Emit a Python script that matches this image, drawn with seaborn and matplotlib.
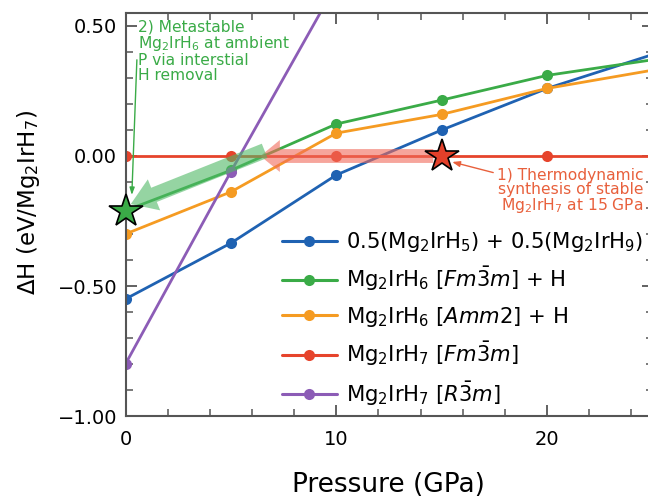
import numpy as np
import pandas as pd
import matplotlib
matplotlib.use("Agg")
import matplotlib.pyplot as plt
import seaborn as sns
from matplotlib.ticker import MultipleLocator, FuncFormatter

# ---------------- data ----------------
pressure = [0, 5, 10, 15, 20, 25]
labels = [
    r"0.5(Mg$_2$IrH$_5$) + 0.5(Mg$_2$IrH$_9$)",
    r"Mg$_2$IrH$_6$ [$Fm\bar{3}m$] + H",
    r"Mg$_2$IrH$_6$ [$Amm2$] + H",
    r"Mg$_2$IrH$_7$ [$Fm\bar{3}m$]",
    r"Mg$_2$IrH$_7$ [$R\bar{3}m$]",
]
dh_mix = [-0.55, -0.335, -0.073, 0.10, 0.26, 0.39]
dh_h6_fm3m = [-0.21, -0.055, 0.123, 0.215, 0.31, 0.37]
dh_h6_amm2 = [-0.30, -0.138, 0.088, 0.16, 0.26, 0.33]
dh_h7_fm3m = [0.0, 0.0, 0.0, 0.0, 0.0, 0.0]
purple_p = [0, 5, 10]
dh_h7_r3m = [-0.80, -0.06, 0.66]
colors = ["#1f62b2", "#3aab47", "#f59b22", "#e6442c", "#8c5cb6"]

star_green = (0, -0.21)
star_red = (15, 0.0)

# ---------------- style ----------------
sns.set_theme(style="ticks")
plt.rcParams["font.family"] = ["DejaVu Sans"]
plt.rcParams["mathtext.fontset"] = "dejavusans"
plt.rcParams["axes.unicode_minus"] = True
plt.rcParams["text.color"] = "black"
plt.rcParams["axes.labelcolor"] = "black"

W, H = 648, 499
fig = plt.figure(figsize=(W / 100, H / 100), dpi=100)
ax_left, ax_bottom_px, ax_top_px = 125.5, 416, 13
ax = fig.add_axes([ax_left / W, (H - ax_bottom_px) / H, 527 / W, (ax_bottom_px - ax_top_px) / H])

rows = []
series = [dh_mix, dh_h6_fm3m, dh_h6_amm2, dh_h7_fm3m]
for lab, vals in zip(labels[:4], series):
    for p, v in zip(pressure, vals):
        rows.append((p, v, lab))
for p, v in zip(purple_p, dh_h7_r3m):
    rows.append((p, v, labels[4]))
df = pd.DataFrame(rows, columns=["Pressure", "dH", "phase"])

sns.lineplot(data=df, x="Pressure", y="dH", hue="phase", hue_order=labels,
             palette=colors, marker="o", markersize=8, markeredgewidth=0,
             linewidth=2.0, sort=False, estimator=None, ax=ax)

# thick translucent arrows
ax.annotate("", xy=(6.4, 0.0), xytext=(14.6, 0.0),
            arrowprops=dict(arrowstyle="simple,tail_width=1.0,head_width=2.3,head_length=1.4",
                            mutation_scale=10, color="#f06a5a", alpha=0.6, lw=0,
                            shrinkA=0, shrinkB=0), zorder=4)
ax.annotate("", xy=(0.25, -0.185), xytext=(6.6, 0.02),
            arrowprops=dict(arrowstyle="simple,tail_width=1.1,head_width=2.4,head_length=1.8",
                            mutation_scale=10, color="#4fb865", alpha=0.6, lw=0,
                            shrinkA=0, shrinkB=0), zorder=4)

# stars
ax.plot([star_green[0]], [star_green[1]], marker="*", markersize=25, linestyle="none",
        markerfacecolor="#3aab47", markeredgecolor="black", markeredgewidth=1.2,
        zorder=10, clip_on=False)
ax.plot([star_red[0]], [star_red[1]], marker="*", markersize=25, linestyle="none",
        markerfacecolor="#e3402a", markeredgecolor="black", markeredgewidth=1.2,
        zorder=10, clip_on=False)

# annotations
ax.annotate("1) Thermodynamic\nsynthesis of stable\nMg$_2$IrH$_7$ at 15 GPa",
            xy=(15.5, -0.023), xytext=(24.55, -0.045), ha="right", va="top",
            multialignment="right",
            fontsize=11.2, color="#e8603c", linespacing=0.95,
            arrowprops=dict(arrowstyle="-|>,head_width=0.15,head_length=0.4",
                            color="#e8603c", lw=1.0, shrinkA=0, shrinkB=0,
                            relpos=(0.0, 0.88)), zorder=7)
ax.text(0.6, 0.525, "2) Metastable\nMg$_2$IrH$_6$ at ambient\nP via interstial\nH removal",
        ha="left", va="top", fontsize=11.2, color="#3aab47", linespacing=0.98, zorder=7)
ax.annotate("", xy=(0.3, -0.15), xytext=(0.54, 0.37),
            arrowprops=dict(arrowstyle="-|>,head_width=0.12,head_length=0.35",
                            color="#3aab47", lw=1.0, shrinkA=0, shrinkB=0), zorder=7)

# axes
ax.set_xlim(0, 25)
ax.set_ylim(-1.0, 0.55)
ax.xaxis.set_major_locator(MultipleLocator(10))
ax.xaxis.set_minor_locator(MultipleLocator(2))
ax.yaxis.set_major_locator(MultipleLocator(0.5))
ax.yaxis.set_minor_locator(MultipleLocator(0.1))
ax.yaxis.set_major_formatter(FuncFormatter(lambda v, p: f"{v:.2f}".replace("-", "\u2212")))
ax.tick_params(which="both", direction="in", top=True, right=True, colors="#555555",
               labelcolor="black", labelsize=14)
ax.tick_params(which="major", length=8, width=1.3)
ax.tick_params(which="minor", length=5, width=1.1)
ax.tick_params(axis="x", which="major", pad=10)
ax.tick_params(axis="y", which="major", pad=6)
for s in ax.spines.values():
    s.set_color("#555555")
    s.set_linewidth(1.5)

ax.set_xlabel("Pressure (GPa)", fontsize=19, color="black")
ax.set_ylabel("ΔH (eV/Mg$_2$IrH$_7$)", fontsize=16.5, color="black")
ax.xaxis.set_label_coords((388 - ax_left) / 527, -(485 - ax_bottom_px) / 403)
ax.yaxis.set_label_coords(-(ax_left - 29) / 527, (ax_bottom_px - 202) / 403)
ax.xaxis.label.set_va("center")
ax.yaxis.label.set_va("center")

leg = ax.legend(loc="upper left", bbox_to_anchor=(282 / W, 1 - 230 / H),
                bbox_transform=fig.transFigure, frameon=False, fontsize=15.2,
                handlelength=2.6, handletextpad=0.45, labelspacing=0.53,
                borderpad=0, borderaxespad=0)
for h in leg.legend_handles:
    h.set_linewidth(2.2)
    h.set_markersize(8)
for t in leg.get_texts():
    t.set_color("black")

fig.savefig("out.png", dpi=100)
